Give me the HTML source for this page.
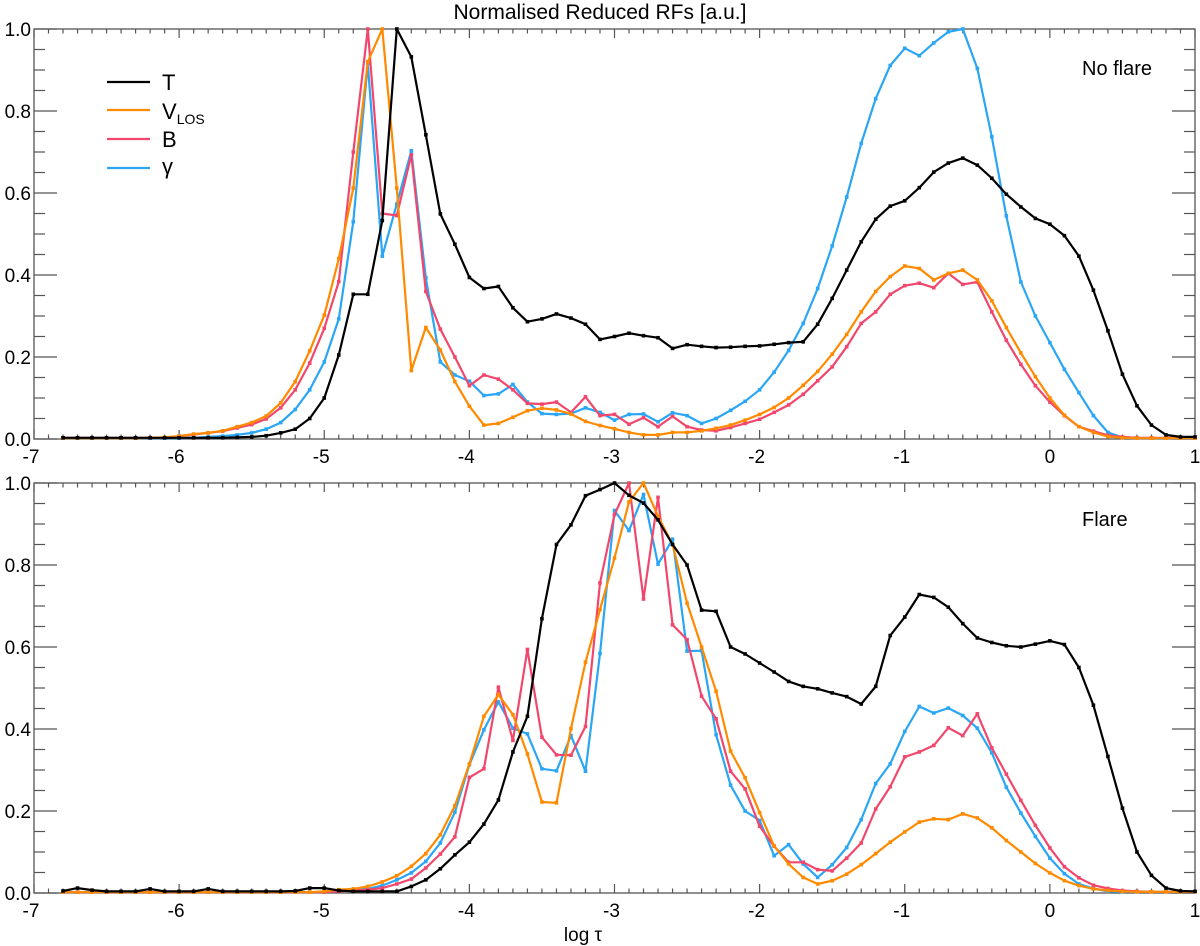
<!DOCTYPE html>
<html><head><meta charset="utf-8">
<style>
html,body{margin:0;padding:0;background:#fff;}
svg{display:block;font-family:"Liberation Sans",Arial,sans-serif;}
</style></head>
<body>
<svg id="chart" width="1200" height="946" viewBox="0 0 1200 946" xmlns="http://www.w3.org/2000/svg">
<text x="600" y="19" text-anchor="middle" font-size="21">Normalised Reduced RFs [a.u.]</text>
<text x="583" y="941" text-anchor="middle" font-size="19">log τ</text>
<g>
 <line x1="107" y1="82" x2="150" y2="82" stroke="#000" stroke-width="2.2"/>
 <text x="162" y="90" font-size="22">T</text>
 <line x1="107" y1="110" x2="150" y2="110" stroke="#ff8a00" stroke-width="2.2"/>
 <text x="162" y="119" font-size="22">V<tspan font-size="14" dy="5">LOS</tspan></text>
 <line x1="107" y1="139" x2="150" y2="139" stroke="#f2476c" stroke-width="2.2"/>
 <text x="162" y="147" font-size="22">B</text>
 <line x1="107" y1="168" x2="150" y2="168" stroke="#2aa6f5" stroke-width="2.2"/>
 <text x="162" y="174" font-size="22">γ</text>
</g>
<text x="1082" y="75" font-size="20">No flare</text>
<text x="1082" y="526" font-size="20">Flare</text>
</svg>
<script>
const logTau=[-6.8,-6.7,-6.6,-6.5,-6.4,-6.3,-6.2,-6.1,-6.0,-5.9,-5.8,-5.7,-5.6,-5.5,-5.4,-5.3,-5.2,-5.1,-5.0,-4.9,-4.8,-4.7,-4.6,-4.5,-4.4,-4.3,-4.2,-4.1,-4.0,-3.9,-3.8,-3.7,-3.6,-3.5,-3.4,-3.3,-3.2,-3.1,-3.0,-2.9,-2.8,-2.7,-2.6,-2.5,-2.4,-2.3,-2.2,-2.1,-2.0,-1.9,-1.8,-1.7,-1.6,-1.5,-1.4,-1.3,-1.2,-1.1,-1.0,-0.9,-0.8,-0.7,-0.6,-0.5,-0.4,-0.3,-0.2,-0.1,0.0,0.1,0.2,0.3,0.4,0.5,0.6,0.7,0.8,0.9,1.0];
const xTickLabels=["-7","-6","-5","-4","-3","-2","-1","0","1"];
const yTickLabels=["0.0","0.2","0.4","0.6","0.8","1.0"];
const topT=[0.003,0.003,0.003,0.003,0.003,0.003,0.003,0.003,0.003,0.003,0.003,0.003,0.004,0.005,0.008,0.015,0.024,0.05,0.10,0.205,0.353,0.353,0.533,1.0,0.932,0.742,0.549,0.475,0.394,0.367,0.372,0.32,0.286,0.293,0.305,0.295,0.28,0.243,0.25,0.258,0.252,0.247,0.221,0.23,0.226,0.223,0.224,0.226,0.227,0.231,0.235,0.237,0.28,0.343,0.412,0.481,0.536,0.568,0.581,0.613,0.651,0.673,0.685,0.668,0.636,0.597,0.566,0.538,0.524,0.496,0.446,0.363,0.264,0.158,0.081,0.034,0.01,0.005,0.005];
const topV=[0.002,0.002,0.002,0.002,0.002,0.002,0.003,0.004,0.007,0.012,0.015,0.02,0.03,0.04,0.056,0.088,0.14,0.215,0.302,0.44,0.612,0.92,1.0,0.612,0.167,0.272,0.217,0.14,0.08,0.034,0.038,0.053,0.069,0.075,0.071,0.061,0.043,0.033,0.025,0.016,0.01,0.01,0.016,0.016,0.02,0.026,0.034,0.046,0.06,0.077,0.1,0.131,0.165,0.207,0.255,0.31,0.36,0.396,0.422,0.416,0.388,0.404,0.412,0.388,0.337,0.272,0.21,0.152,0.1,0.058,0.03,0.016,0.006,0.003,0.002,0.002,0.002,0.002,0.002];
const topB=[0.003,0.003,0.003,0.003,0.003,0.003,0.003,0.003,0.007,0.011,0.015,0.019,0.027,0.035,0.049,0.076,0.12,0.185,0.27,0.384,0.7,1.0,0.55,0.545,0.693,0.36,0.268,0.2,0.13,0.156,0.146,0.12,0.087,0.085,0.09,0.065,0.103,0.057,0.06,0.036,0.052,0.03,0.055,0.03,0.022,0.02,0.028,0.038,0.048,0.065,0.083,0.109,0.142,0.176,0.225,0.282,0.31,0.353,0.374,0.38,0.369,0.404,0.377,0.383,0.31,0.241,0.182,0.13,0.09,0.057,0.03,0.019,0.009,0.005,0.003,0.003,0.003,0.003,0.003];
const topG=[0.002,0.002,0.002,0.002,0.002,0.002,0.002,0.002,0.002,0.003,0.005,0.007,0.01,0.015,0.024,0.04,0.072,0.12,0.188,0.293,0.53,0.916,0.446,0.573,0.703,0.393,0.188,0.156,0.141,0.106,0.11,0.133,0.09,0.062,0.06,0.062,0.076,0.065,0.046,0.06,0.061,0.042,0.064,0.057,0.038,0.05,0.07,0.092,0.12,0.163,0.216,0.282,0.367,0.471,0.59,0.721,0.83,0.911,0.953,0.935,0.966,0.993,1.0,0.904,0.737,0.544,0.383,0.3,0.235,0.17,0.113,0.057,0.016,0.004,0.002,0.002,0.002,0.002,0.002];
const botT=[0.005,0.012,0.007,0.004,0.004,0.004,0.01,0.004,0.004,0.004,0.01,0.004,0.004,0.004,0.004,0.004,0.005,0.012,0.012,0.006,0.004,0.004,0.004,0.004,0.016,0.032,0.059,0.093,0.124,0.168,0.227,0.344,0.431,0.669,0.85,0.898,0.969,0.984,1.0,0.97,0.951,0.91,0.85,0.8,0.69,0.687,0.6,0.583,0.561,0.539,0.516,0.504,0.498,0.488,0.479,0.461,0.504,0.628,0.673,0.728,0.721,0.697,0.657,0.622,0.611,0.603,0.6,0.607,0.615,0.606,0.55,0.458,0.333,0.207,0.1,0.043,0.012,0.005,0.004];
const botV=[0.002,0.002,0.002,0.002,0.002,0.002,0.002,0.002,0.002,0.002,0.002,0.002,0.002,0.002,0.002,0.002,0.002,0.002,0.004,0.008,0.01,0.016,0.027,0.042,0.065,0.096,0.142,0.213,0.315,0.431,0.484,0.435,0.339,0.222,0.22,0.401,0.563,0.691,0.817,0.954,1.0,0.919,0.85,0.707,0.6,0.492,0.346,0.281,0.196,0.115,0.071,0.038,0.022,0.03,0.046,0.069,0.096,0.124,0.149,0.173,0.181,0.179,0.193,0.183,0.159,0.128,0.1,0.072,0.049,0.03,0.018,0.01,0.006,0.004,0.003,0.003,0.003,0.003,0.003];
const botB=[0.002,0.002,0.002,0.002,0.002,0.002,0.002,0.002,0.002,0.002,0.002,0.002,0.002,0.002,0.002,0.002,0.002,0.002,0.002,0.004,0.006,0.008,0.012,0.022,0.034,0.061,0.095,0.137,0.282,0.303,0.502,0.372,0.594,0.38,0.337,0.336,0.406,0.756,0.923,1.0,0.717,0.965,0.654,0.618,0.48,0.425,0.297,0.254,0.163,0.114,0.075,0.075,0.057,0.054,0.085,0.122,0.205,0.259,0.332,0.344,0.36,0.403,0.384,0.437,0.354,0.29,0.226,0.165,0.11,0.064,0.037,0.019,0.011,0.006,0.004,0.003,0.003,0.003,0.003];
const botG=[0.002,0.002,0.002,0.002,0.002,0.002,0.002,0.002,0.002,0.002,0.002,0.002,0.002,0.002,0.002,0.002,0.002,0.002,0.002,0.004,0.007,0.01,0.018,0.032,0.049,0.077,0.122,0.197,0.313,0.398,0.466,0.402,0.388,0.303,0.298,0.384,0.297,0.584,0.933,0.884,0.972,0.802,0.863,0.59,0.591,0.386,0.263,0.2,0.177,0.091,0.118,0.071,0.038,0.069,0.111,0.179,0.267,0.315,0.394,0.455,0.439,0.451,0.433,0.402,0.342,0.258,0.195,0.138,0.085,0.047,0.022,0.011,0.004,0.003,0.003,0.003,0.003,0.003,0.003];

const NS='http://www.w3.org/2000/svg';
const svg=document.getElementById('chart');
const X0=34,X1=1195,XMIN=-7,XMAX=1;
function xs(v){return X0+(v-XMIN)/(XMAX-XMIN)*(X1-X0);}
function mk(tag,attrs,parent){const e=document.createElementNS(NS,tag);for(const k in attrs)e.setAttribute(k,attrs[k]);(parent||svg).appendChild(e);return e;}
const colors={T:'#000000',V:'#ff8a00',B:'#f2476c',G:'#2aa6f5'};
const panels=[
 {name:'top',top:29,bot:439,series:[['G',topG],['B',topB],['V',topV],['T',topT]]},
 {name:'bottom',top:483,bot:893,series:[['G',botG],['B',botB],['V',botV],['T',botT]]}
];
panels.forEach(p=>{
 const ys=v=>p.bot-v*(p.bot-p.top);
 const g=mk('g',{});
 
 
 const frame=mk('rect',{x:X0,y:p.top,width:X1-X0,height:p.bot-p.top,fill:'none',stroke:'#555','stroke-width':1.3},g);
 
 
 for(let i=0;i<=80;i++){
  const v=XMIN+i*0.1;const x=xs(v);const major=(i%10===0);const L=major?9:4.5;
  const t1=mk('line',{x1:x,y1:p.bot,x2:x,y2:p.bot-L,stroke:'#555','stroke-width':1.2},g);
  
  
  const t2=mk('line',{x1:x,y1:p.top,x2:x,y2:p.top+L,stroke:'#555','stroke-width':1.2},g);
  
  
 }
 xTickLabels.forEach((lab,i)=>{
  const t=mk('text',{x:xs(XMIN+i)-(lab.startsWith('-')?3:0),y:p.bot+24,'text-anchor':'middle','font-size':19},g);
  
  
  t.textContent=lab;
 });
 for(let i=0;i<=20;i++){
  const v=i*0.05;const y=ys(v);const major=(i%4===0);const L=major?23:11;
  const t1=mk('line',{x1:X0,y1:y,x2:X0+L,y2:y,stroke:'#555','stroke-width':1.2},g);
  
  
  const t2=mk('line',{x1:X1,y1:y,x2:X1-L,y2:y,stroke:'#555','stroke-width':1.2},g);
  
  
 }
 yTickLabels.forEach((lab,i)=>{
  const t=mk('text',{x:31,y:ys(i*0.2)+7,'text-anchor':'end','font-size':19},g);
  
  
  t.textContent=lab;
 });
 p.series.forEach(([key,vals])=>{
  const pts=vals.map((v,i)=>xs(logTau[i]).toFixed(1)+','+ys(v).toFixed(1)).join(' ');
  const pl=mk('polyline',{points:pts,fill:'none',stroke:colors[key],'stroke-width':2.2,'stroke-linejoin':'round'},g);
  
  
  vals.forEach((v,i)=>{
   const m=mk('rect',{x:xs(logTau[i])-1.8,y:ys(v)-1.8,width:3.6,height:3.6,fill:colors[key]},g);
   
   
  });
 });
});
</script>
</body></html>
